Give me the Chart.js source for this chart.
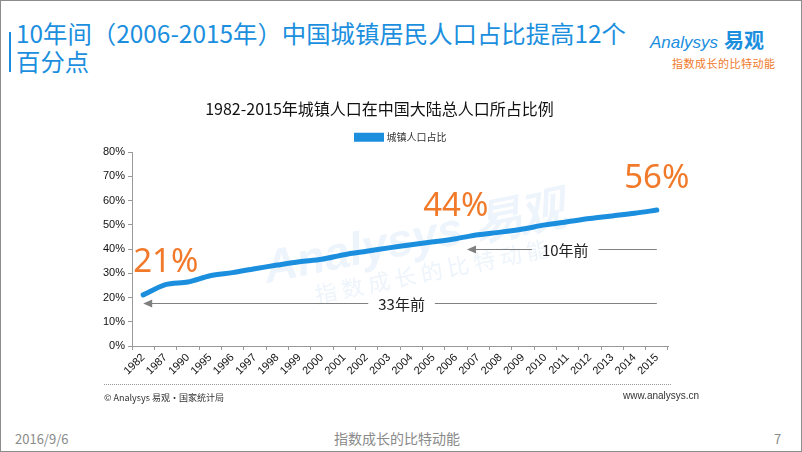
<!DOCTYPE html>
<html>
<head>
<meta charset="utf-8">
<script src="https://cdn.jsdelivr.net/npm/chart.js@4"></script>
<style>
  html, body { margin: 0; padding: 0; background: #fff; }
  body { width: 802px; height: 452px; overflow: hidden; font-family: "Noto Sans CJK SC", "Noto Sans", sans-serif; }
  #page { position: relative; width: 802px; height: 452px; box-sizing: border-box; border: 1px solid #8c8c8c; }
  .abs { position: absolute; white-space: nowrap; }
  #bar { left: 8px; top: 31px; width: 2px; height: 40px; background: #1b8fde; }
  #head { left: 15px; top: 18px; font-size: 24.4px; line-height: 28px; color: #1b8fde; }
  #logo { left: 649px; top: 24px; color: #1b8fde; }
  #logo .en { font-family: "Liberation Sans", sans-serif; font-style: italic; font-size: 17px; }
  #logo .cn { font-size: 20px; font-weight: bold; margin-left: 6px; }
  #tag { left: 671px; top: 54px; font-size: 11px; color: #f07a2a; letter-spacing: 0.5px; }
  #wrap { position: absolute; left: 0; top: 88px; width: 802px; height: 298px; }
  #rule { left: 103px; top: 383px; width: 567px; border-top: 1px dotted #999; }
  #src { left: 103px; top: 390px; font-size: 9px; color: #333; }
  #www { left: 622px; top: 389px; font-size: 10px; color: #333; font-family: "Liberation Sans", sans-serif; }
  #date { left: 14px; top: 428px; font-size: 13px; color: #8a8a8a; }
  #mid { left: 333px; top: 427px; font-size: 14px; color: #8a8a8a; }
  #num { left: 773px; top: 428px; font-size: 13px; color: #8a8a8a; }
</style>
</head>
<body>
<div id="page">
  <div class="abs" id="bar"></div>
  <div class="abs" id="head">10年间（2006-2015年）中国城镇居民人口占比提高12个<br>百分点</div>
  <div class="abs" id="logo"><span class="en">Analysys</span><span class="cn">易观</span></div>
  <div class="abs" id="tag">指数成长的比特动能</div>
  <div id="wrap"><canvas id="lineChart" width="802" height="298"></canvas></div>
  <div class="abs" id="rule"></div>
  <div class="abs" id="src">© Analysys 易观·国家统计局</div>
  <div class="abs" id="www">www.analysys.cn</div>
  <div class="abs" id="date">2016/9/6</div>
  <div class="abs" id="mid">指数成长的比特动能</div>
  <div class="abs" id="num">7</div>
</div>
<script>
// Data
const years = ['1982', '1987', '1990', '1995', '1996', '1997', '1998', '1999', '2000', '2001', '2002', '2003',
    '2004', '2005', '2006', '2007', '2008', '2009', '2010', '2011', '2012', '2013', '2014', '2015'];
const urbanShare = [21.1, 25.3, 26.4, 29.0, 30.3, 31.9, 33.4, 34.8, 35.8, 37.7, 39.1, 40.5,
    41.8, 43.0, 44.3, 45.9, 47.0, 48.3, 50.0, 51.3, 52.6, 53.7, 54.8, 56.1];
const yTicks = [0, 10, 20, 30, 40, 50, 60, 70, 80];

// Callouts: [text, category index, value]
const callouts = [['21%', 0, 21.1], ['44%', 14, 44.3], ['56%', 23, 56.1]];
// Arrows: [label, from index (arrow head), to index, level, label index]
const arrows = [['10年前', 14.5, 23, 40.2, 18.9], ['33年前', 0, 23, 17.9, 11.57]];

const cjk = '"Noto Sans CJK SC", "Noto Sans", sans-serif';

// move title and legend to where the reference has them
const shiftBoxes = {
    id: 'shiftBoxes',
    afterLayout(chart) {
        const t = chart.titleBlock, l = chart.legend;
        if (t) { t.left += 45; t.right += 45; }
        if (l) { l.left += 67; l.right += 67; }
    }
};

const annotate = {
    id: 'annotate',
    beforeDatasetsDraw(chart) {
        const ctx = chart.ctx;
        const a = chart.chartArea;
        ctx.save();
        ctx.translate((a.left + a.right) / 2 + 15, a.top + 88);
        ctx.rotate(-0.2);
        ctx.fillStyle = 'rgba(190, 215, 240, 0.28)';
        ctx.textAlign = 'center';
        ctx.font = 'italic bold 46px "Liberation Sans", sans-serif';
        ctx.fillText('Analysys 易观', 0, 0);
        ctx.font = '22px ' + cjk;
        ctx.fillText('指 数 成 长 的 比 特 动 能', 10, 34);
        ctx.restore();
    },
    afterDatasetsDraw(chart) {
        const ctx = chart.ctx;
        const x = chart.scales.x;
        const y = chart.scales.y;
        ctx.save();
        ctx.fillStyle = '#f07a2a';
        ctx.font = '33px "Noto Sans", sans-serif';
        ctx.textBaseline = 'middle';
        callouts.forEach(function(c) {
            const px = x.getPixelForValue(c[1]);
            const py = y.getPixelForValue(c[2]) - 32;
            ctx.textAlign = c[1] === 0 ? 'left' : 'center';
            ctx.fillText(c[0], c[1] === 0 ? px - 10 : px, py);
        });

        ctx.strokeStyle = '#808080';
        ctx.lineWidth = 1;
        ctx.font = '15px ' + cjk;
        ctx.textAlign = 'center';
        arrows.forEach(function(r) {
            const x0 = x.getPixelForValue(r[1]);
            const x1 = x.getPixelForValue(r[2]);
            const py = Math.round(y.getPixelForValue(r[3])) + 0.5;
            const tx = x.getPixelForValue(r[4]);
            const half = ctx.measureText(r[0]).width / 2 + 10;
            ctx.beginPath();
            ctx.moveTo(x0 + 4, py);
            ctx.lineTo(tx - half, py);
            ctx.moveTo(tx + half, py);
            ctx.lineTo(x1, py);
            ctx.stroke();
            ctx.fillStyle = '#808080';
            ctx.beginPath();
            ctx.moveTo(x0, py);
            ctx.lineTo(x0 + 9, py - 4);
            ctx.lineTo(x0 + 9, py + 4);
            ctx.closePath();
            ctx.fill();
            ctx.fillStyle = '#222';
            ctx.fillText(r[0], tx, py + 1);
        });
        ctx.restore();
    }
};

const lineChartCtx = document.getElementById('lineChart').getContext('2d');
new Chart(lineChartCtx, {
    type: 'line',
    data: {
        labels: years,
        datasets: [{
            label: '城镇人口占比',
            data: urbanShare,
            borderColor: '#1b8fde',
            backgroundColor: '#1b8fde',
            borderWidth: 5,
            pointRadius: 0,
            tension: 0.3,
            borderCapStyle: 'round'
        }]
    },
    options: {
        responsive: false,
        animation: false,
        layout: { padding: { left: 0, right: 135, top: 0, bottom: 0 } },
        plugins: {
            title: {
                display: true,
                text: '1982-2015年城镇人口在中国大陆总人口所占比例',
                color: '#111',
                font: { family: cjk, size: 16, weight: 'normal' },
                padding: { top: 10, bottom: 6 }
            },
            legend: {
                labels: {
                    boxWidth: 25,
                    boxHeight: 4,
                    color: '#333',
                    font: { family: cjk, size: 10 },
                    padding: 8
                }
            },
            tooltip: { enabled: false }
        },
        scales: {
            x: {
                offset: true,
                grid: { display: true, drawOnChartArea: false, offset: true, color: '#999', tickLength: 4 },
                border: { color: '#999' },
                ticks: {
                    color: '#111',
                    font: { family: '"Liberation Sans", sans-serif', size: 11 },
                    maxRotation: 45,
                    minRotation: 45,
                    autoSkip: false,
                    padding: 1
                },
                afterFit(s) { s.height = 41; }
            },
            y: {
                min: 0,
                max: 80,
                afterBuildTicks(s) { s.ticks = yTicks.map(function(v) { return { value: v }; }); },
                grid: { display: true, drawOnChartArea: false, color: '#999', tickLength: 4 },
                border: { color: '#999' },
                ticks: {
                    color: '#111',
                    font: { family: '"Liberation Sans", sans-serif', size: 11 },
                    padding: 3,
                    callback: function(v) { return v + '%'; }
                },
                afterFit(s) { s.width = 131; }
            }
        }
    },
    plugins: [annotate, shiftBoxes]
});
</script>
</body>
</html>
